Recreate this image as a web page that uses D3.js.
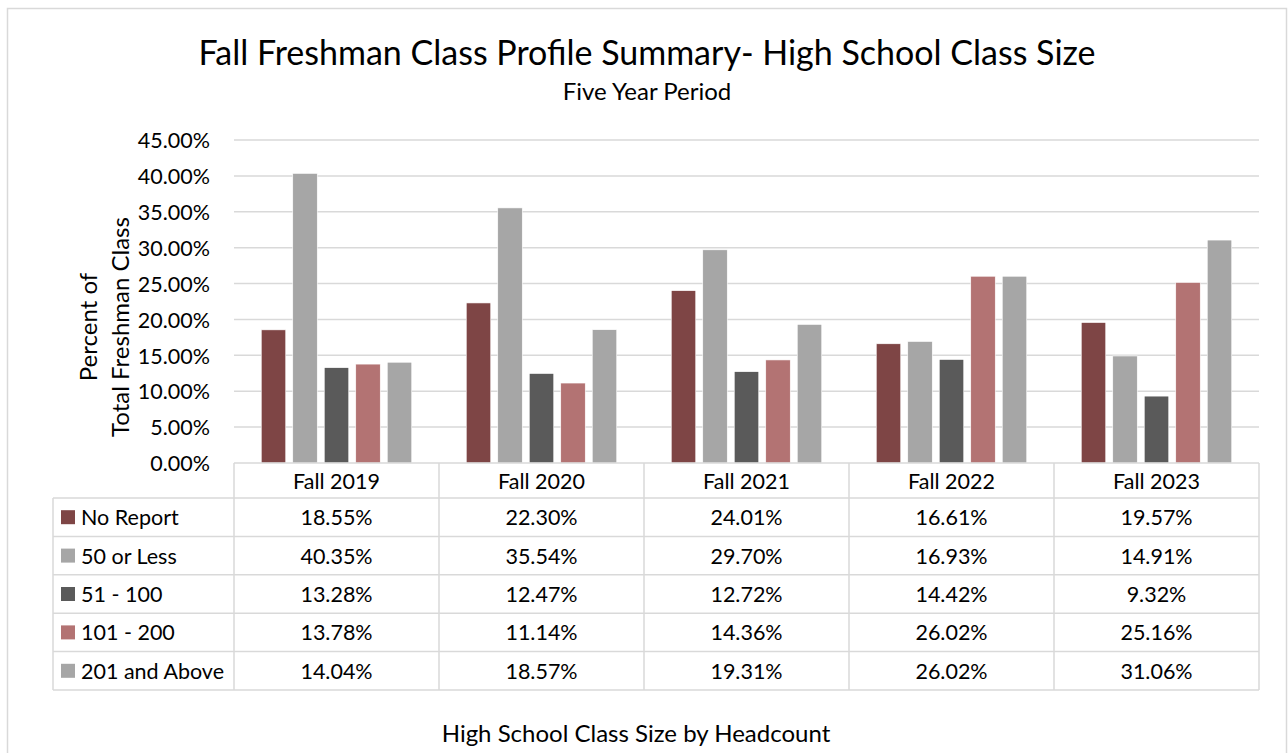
<!DOCTYPE html>
<html>
<head>
<meta charset="utf-8">
<script src="https://cdn.jsdelivr.net/npm/d3@7"></script>
<style>
  body{margin:0;background:#fff;}
  svg text{font-family:Lato,"Open Sans",sans-serif;fill:#000;}
</style>
</head>
<body>
<svg width="1288" height="753"></svg>
<script>
// chart data
const years = ["Fall 2019","Fall 2020","Fall 2021","Fall 2022","Fall 2023"];
const seriesNames = ["No Report","50 or Less","51 - 100","101 - 200","201 and Above"];
const seriesColors = ["#7e4545","#a6a6a6","#5a5a5a","#b37373","#a6a6a6"];
const noReport   = [18.55,22.30,24.01,16.61,19.57];
const fiftyLess  = [40.35,35.54,29.70,16.93,14.91];
const s51to100   = [13.28,12.47,12.72,14.42,9.32];
const s101to200  = [13.78,11.14,14.36,26.02,25.16];
const s201above  = [14.04,18.57,19.31,26.02,31.06];
const yTicks = [0,5,10,15,20,25,30,35,40,45];

const values = [noReport,fiftyLess,s51to100,s101to200,s201above];

const svg = d3.select("svg");
const plotL = 234, plotR = 1259, plotT = 140, plotB = 463;
const tableLeft = 53, rowH = 38.4, headH = 35;
const grid = "#d9d9d9";
const lblSize = 21.5;

// outer frame
svg.append("rect").attr("x",7.5).attr("y",8.5).attr("width",1279).attr("height",760)
  .attr("fill","none").attr("stroke","#d9d9d9").attr("stroke-width",1.5);

const x0 = d3.scaleBand().domain(years).range([plotL,plotR]);
const x1 = d3.scaleBand().domain(seriesNames).range([0,x0.bandwidth()]).paddingInner(0.222).paddingOuter(0.865);
const y = d3.scaleLinear().domain([0,45]).range([plotB,plotT]);

// gridlines
svg.append("g").selectAll("line").data(yTicks.slice(1)).enter().append("line")
  .attr("x1",plotL).attr("x2",plotR).attr("y1",d=>y(d)).attr("y2",d=>y(d))
  .attr("stroke",grid).attr("stroke-width",1.5);

// y axis labels
const yAxis = svg.append("g").attr("transform",`translate(${plotL},0)`)
  .call(d3.axisLeft(y).tickValues(yTicks).tickSize(0).tickPadding(24).tickFormat(d=>d.toFixed(2)+"%"));
yAxis.select(".domain").remove();
yAxis.selectAll("text").attr("font-size",lblSize).attr("dy","0.36em").style("font-family","Lato,'Open Sans',sans-serif");

// bars
const groups = svg.append("g").selectAll("g").data(years).enter().append("g")
  .attr("transform",d=>`translate(${x0(d)},0)`);
groups.selectAll("rect").data((d,i)=>seriesNames.map((s,j)=>({s,j,v:values[j][i]}))).enter().append("rect")
  .attr("x",d=>x1(d.s)).attr("width",x1.bandwidth())
  .attr("y",d=>y(d.v)).attr("height",d=>y(0)-y(d.v))
  .attr("fill",d=>seriesColors[d.j]).attr("stroke","#fff").attr("stroke-width",0.6);

// data table
const tg = svg.append("g").attr("stroke",grid).attr("stroke-width",1.5);
const tableBottom = plotB + headH + rowH*seriesNames.length;
tg.append("line").attr("x1",plotL).attr("x2",plotR).attr("y1",plotB).attr("y2",plotB);
years.forEach(yr=>{
  tg.append("line").attr("x1",x0(yr)).attr("x2",x0(yr)).attr("y1",plotB).attr("y2",tableBottom);
});
tg.append("line").attr("x1",plotR).attr("x2",plotR).attr("y1",plotB).attr("y2",tableBottom);
tg.append("line").attr("x1",tableLeft).attr("x2",tableLeft).attr("y1",plotB+headH).attr("y2",tableBottom);
for(let r=0;r<=seriesNames.length;r++){
  const yy = plotB+headH+rowH*r;
  tg.append("line").attr("x1",tableLeft).attr("x2",plotR).attr("y1",yy).attr("y2",yy);
}
svg.append("g").selectAll("text").data(years).enter().append("text")
  .attr("x",d=>x0(d)+x0.bandwidth()/2).attr("y",plotB+headH/2+8)
  .attr("text-anchor","middle").attr("font-size",lblSize).text(d=>d);

seriesNames.forEach((s,j)=>{
  const cy = plotB+headH+rowH*j+rowH/2;
  svg.append("rect").attr("x",61).attr("y",cy-7).attr("width",14).attr("height",14).attr("fill",seriesColors[j]);
  svg.append("text").attr("x",81).attr("y",cy+8).attr("font-size",lblSize).text(s);
  years.forEach((yr,i)=>{
    svg.append("text").attr("x",x0(yr)+x0.bandwidth()/2).attr("y",cy+8)
      .attr("text-anchor","middle").attr("font-size",lblSize).text(values[j][i].toFixed(2)+"%");
  });
});

// titles
svg.append("text").attr("x",647).attr("y",65).attr("text-anchor","middle").attr("font-size",34)
  .text("Fall Freshman Class Profile Summary- High School Class Size");
svg.append("text").attr("x",647).attr("y",100).attr("text-anchor","middle").attr("font-size",24)
  .text("Five Year Period");
svg.append("text").attr("x",636).attr("y",742).attr("text-anchor","middle").attr("font-size",24)
  .text("High School Class Size by Headcount");
const yt = svg.append("text").attr("transform","translate(97,327) rotate(-90)").attr("text-anchor","middle").attr("font-size",24);
yt.append("tspan").attr("x",0).attr("dy",0).text("Percent of");
yt.append("tspan").attr("x",0).attr("dy",32).text("Total Freshman Class");
</script>
</body>
</html>
